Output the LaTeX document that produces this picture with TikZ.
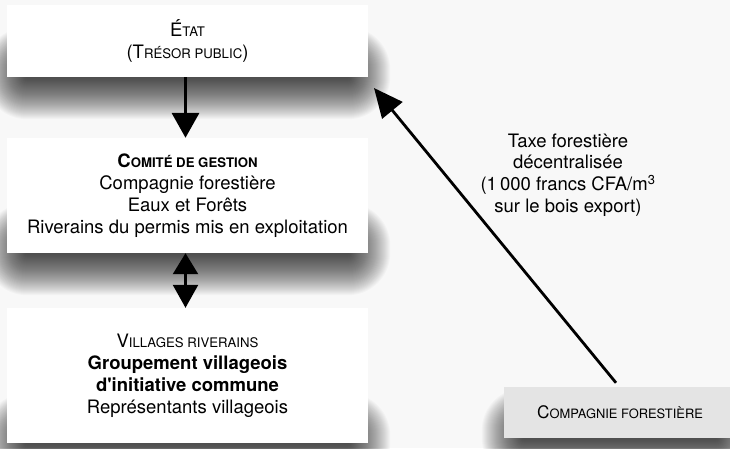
\documentclass[tikz,border=0pt]{standalone}
\usepackage{fontspec}
\setmainfont{TeX Gyre Heros}[Ligatures=TeXOff]
\usetikzlibrary{arrows.meta}

\definecolor{pagebg}{RGB}{248,248,248}
\definecolor{compfill}{RGB}{228,228,228}

\pgfdeclarelayer{paper}
\pgfdeclarelayer{shade}
\pgfsetlayers{paper,shade,main}

% fake small caps: a full-size initial followed by smaller capitals
\newcommand\capsmall[1]{{\fontsize{13.2}{15}\selectfont #1}}

% soft drop shadow hanging below a node: a thin strip along its lower edge,
% widened step by step with translucent fills so that it fades outwards
\newcommand\softshadow[1]{%
  \begin{pgfonlayer}{shade}
    \foreach \d in {0,...,42}{
      \fill[black, opacity=0.022, rounded corners=\d pt]
        ([xshift=20pt-\d pt, yshift=8pt+\d pt]#1.south west)
        rectangle ([xshift=-20pt+\d pt, yshift=-\d pt]#1.south east);
    }
  \end{pgfonlayer}}

\tikzset{
  box/.style={rectangle, fill=white, inner sep=0pt, align=center,
    font=\fontsize{18.5}{22}\selectfont},
  compbox/.style={box, fill=compfill, font=\fontsize{17.2}{20}\selectfont},
  flow/.style={line width=3.6pt, -{Triangle[width=27pt,length=25pt]}},
  link/.style={line width=2.4pt, {Triangle[width=25pt,length=21pt]}-{Triangle[width=25pt,length=23pt]}},
  tax/.style={line width=2.8pt, -{Triangle[width=26pt,length=29pt]}},
  note/.style={align=center, font=\fontsize{18.5}{21.7}\selectfont}
}

\begin{document}
\begin{tikzpicture}[x=1pt,y=-1pt]
  \useasboundingbox (0,0) rectangle (730,448);
  \begin{pgfonlayer}{paper}
    \fill[pagebg] (0,0) rectangle (730,448);
  \end{pgfonlayer}
  \begin{scope}
    \clip (0,0) rectangle (730,448);

    \node[box, minimum width=361pt, minimum height=72pt] (etat) at (187.5,41)
      {É\capsmall{TAT}\\(T\capsmall{RÉSOR PUBLIC})};

    \node[box, minimum width=361pt, minimum height=115pt] (comite) at (187.5,195.5)
      {\textbf{C\capsmall{OMITÉ DE GESTION}}\\Compagnie forestière\\Eaux et Forêts\\Riverains du permis mis en exploitation};

    \node[box, minimum width=361pt, minimum height=135pt] (villages) at (187.5,375.5)
      {V\capsmall{ILLAGES RIVERAINS}\\\textbf{Groupement villageois}\\\textbf{d'initiative commune}\\Représentants villageois};

    \node[compbox, minimum width=232pt, minimum height=51pt] (compagnie) at (620,412.5)
      {C{\fontsize{12.9}{15}\selectfont OMPAGNIE FORESTIÈRE}};

    \softshadow{etat}
    \softshadow{comite}
    \softshadow{villages}
    \softshadow{compagnie}

    \node[note] (taxe) at (568,175)
      {Taxe forestière\\décentralisée\\(1\,000 francs CFA/m\textsuperscript{3}\\sur le bois export)};

    \coordinate (tip) at (374,88);

    \draw[flow] ([xshift=-2pt]etat.south) -- ([xshift=-2pt]comite.north);
    \draw[link] ([xshift=-2pt]comite.south) -- ([xshift=-2pt]villages.north);
    \draw[tax] ([xshift=-4pt,yshift=4pt]compagnie.north) -- (tip);
  \end{scope}
\end{tikzpicture}
\end{document}
